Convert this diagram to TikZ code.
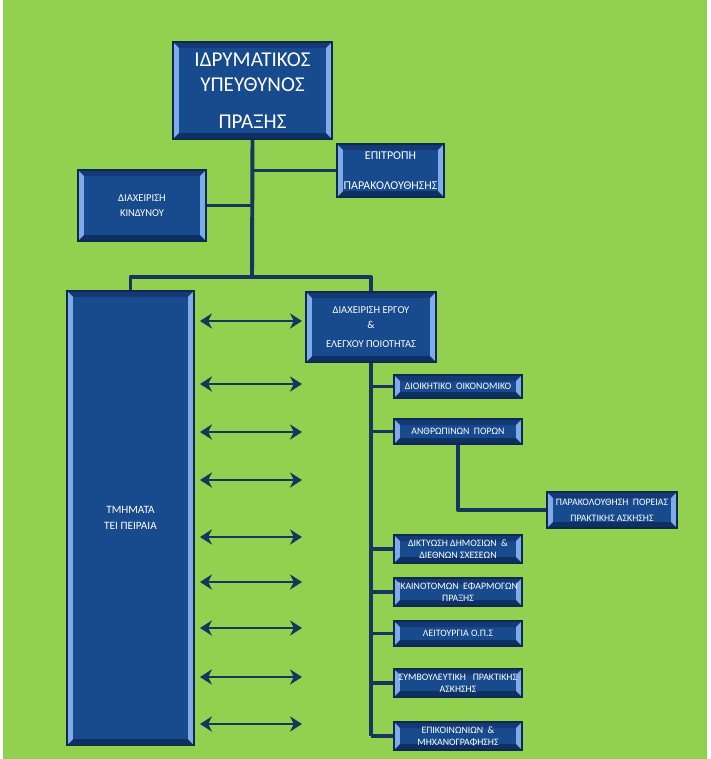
\documentclass[tikz,border=0pt]{standalone}
\usepackage{fontspec}
\setmainfont{Carlito}
\usetikzlibrary{arrows.meta,calc}
\definecolor{bggreen}{RGB}{146,208,80}
\definecolor{boxblue}{RGB}{24,74,142}
\definecolor{boxnavy}{RGB}{14,40,80}
\definecolor{bevlight}{RGB}{125,172,232}
\definecolor{bevdark}{RGB}{15,48,98}
\definecolor{linenavy}{RGB}{22,54,92}
\newcommand{\bev}{0.15cm}
\newcommand{\smallfont}{\fontsize{7}{8.5}\selectfont}

\begin{document}
\begin{tikzpicture}[x=0.025cm, y=-0.025cm, >=Stealth,
    unit/.style={draw=boxnavy, line width=0.8pt, fill=boxblue,
                 text=white, align=center, inner sep=1pt, font=\smallfont,
                 path picture={
                   \coordinate (pp-sw) at (path picture bounding box.south west);
                   \coordinate (pp-se) at (path picture bounding box.south east);
                   \coordinate (pp-nw) at (path picture bounding box.north west);
                   \coordinate (pp-ne) at (path picture bounding box.north east);
                   \fill[bevdark!60!boxblue] (pp-nw) -- ([shift={(\bev,-\bev)}]pp-nw) -- ([shift={(-\bev,-\bev)}]pp-ne) -- (pp-ne) -- cycle;
                   \fill[bevdark] (pp-sw) -- ([shift={(\bev,\bev)}]pp-sw) -- ([shift={(-\bev,\bev)}]pp-se) -- (pp-se) -- cycle;
                   \fill[bevlight] (pp-sw) -- ([shift={(\bev,\bev)}]pp-sw) -- ([shift={(\bev,-\bev)}]pp-nw) -- (pp-nw) -- cycle;
                   \fill[bevlight] (pp-se) -- ([shift={(-\bev,\bev)}]pp-se) -- ([shift={(-\bev,-\bev)}]pp-ne) -- (pp-ne) -- cycle;
                 }},
    smallunit/.style={unit, minimum width=3.2cm},
    conn/.style={draw=linenavy, line width=2.8pt, line join=round},
    dbl/.style={linenavy, line width=1.6pt,
                {Stealth[length=0.3cm,width=0.38cm]}-{Stealth[length=0.3cm,width=0.38cm]}}]
  \useasboundingbox (0,0) rectangle (711,759);
  \fill[white] (0,0) rectangle (711,759);
  \fill[bggreen] (3,0) rectangle (707,759);

  % Top levels
  \node[unit, minimum width=3.975cm, minimum height=2.425cm,
        font=\fontsize{15}{18}\selectfont] (ires) at (252.5,90.5)
        {ΙΔΡΥΜΑΤΙΚΟΣ\\ΥΠΕΥΘΥΝΟΣ\\[8pt]ΠΡΑΞΗΣ};
  \node[unit, minimum width=2.675cm, minimum height=1.325cm,
        font=\fontsize{8.5}{10}\selectfont] (epit) at (390.5,170.5)
        {ΕΠΙΤΡΟΠΗ\\[11pt]ΠΑΡΑΚΟΛΟΥΘΗΣΗΣ};
  \node[unit, minimum width=3.2cm, minimum height=1.775cm,
        font=\fontsize{7.5}{9}\selectfont] (kind) at (142,205.5)
        {ΔΙΑΧΕΙΡΙΣΗ\\[2pt]ΚΙΝΔΥΝΟΥ};
  \node[unit, minimum width=3.175cm, minimum height=11.35cm,
        font=\fontsize{8}{9.5}\selectfont] (tmim) at (130.5,518)
        {ΤΜΗΜΑΤΑ\\[2pt]ΤΕΙ ΠΕΙΡΑΙΑ};
  \node[unit, minimum width=3.25cm, minimum height=1.75cm,
        font=\fontsize{7.5}{9}\selectfont] (erg) at (371,327)
        {ΔΙΑΧΕΙΡΙΣΗ ΕΡΓΟΥ\\[2pt]\&\\[4pt]ΕΛΕΓΧΟΥ ΠΟΙΟΤΗΤΑΣ};
  \coordinate (hub) at (252,277);

  % Sections
  \node[smallunit, minimum height=0.575cm] (dioik) at (458,386.5) {ΔΙΟΙΚΗΤΙΚΟ\ \ ΟΙΚΟΝΟΜΙΚΟ};
  \node[smallunit, minimum height=0.625cm] (anth)  at (458,431.5) {ΑΝΘΡΩΠΙΝΩΝ\ \ ΠΟΡΩΝ};
  \node[smallunit, minimum height=0.7cm]   (dikt)  at (458,549)   {ΔΙΚΤΥΩΣΗ ΔΗΜΟΣΙΩΝ\ \ \&\\ΔΙΕΘΝΩΝ ΣΧΕΣΕΩΝ};
  \node[smallunit, minimum height=0.7cm]   (kain)  at (458,592)   {'ΚΑΙΝΟΤΟΜΩΝ\ \ ΕΦΑΡΜΟΓΩΝ\\ΠΡΑΞΗΣ};
  \node[smallunit, minimum height=0.625cm] (leit)  at (458,633.5) {ΛΕΙΤΟΥΡΓΙΑ Ο.Π.Σ};
  \node[smallunit, minimum height=0.7cm]   (symv)  at (458,683)   {ΣΥΜΒΟΥΛΕΥΤΙΚΗ\ \ \ ΠΡΑΚΤΙΚΗΣ\\ΑΣΚΗΣΗΣ};
  \node[smallunit, minimum height=0.7cm]   (epik)  at (458,736)   {ΕΠΙΚΟΙΝΩΝΙΩΝ\ \ \&\\ΜΗΧΑΝΟΓΡΑΦΗΣΗΣ};
  \node[unit, minimum width=3.25cm, minimum height=0.9cm] (parak) at (612,510)
        {ΠΑΡΑΚΟΛΟΥΘΗΣΗ\ \ ΠΟΡΕΙΑΣ\\[3pt]ΠΡΑΚΤΙΚΗΣ ΑΣΚΗΣΗΣ};

  % Connectors
  \draw[conn] (ires.south) -- (hub);
  \draw[conn] (epit.west) -- (epit.west -| hub);
  \draw[conn] (kind.east) -- (kind.east -| hub);
  \draw[conn] (tmim.north) |- (hub) -| (erg.north);
  \draw[conn] (erg.south) -- (erg.south |- epik.west);
  \foreach \b in {dioik,anth,dikt,kain,leit,symv,epik}
    \draw[conn] (\b.west -| erg.south) -- (\b.west);
  \draw[conn] (anth.south) |- (parak.west);

  % Links between departments and sections
  \foreach \y [count=\i] in {321,384,432,480,537,582,628,677,724} {
    \coordinate (al\i) at (200,\y);
    \coordinate (ar\i) at (302,\y);
    \draw[dbl] (al\i) -- (ar\i);
  }
\end{tikzpicture}
\end{document}
